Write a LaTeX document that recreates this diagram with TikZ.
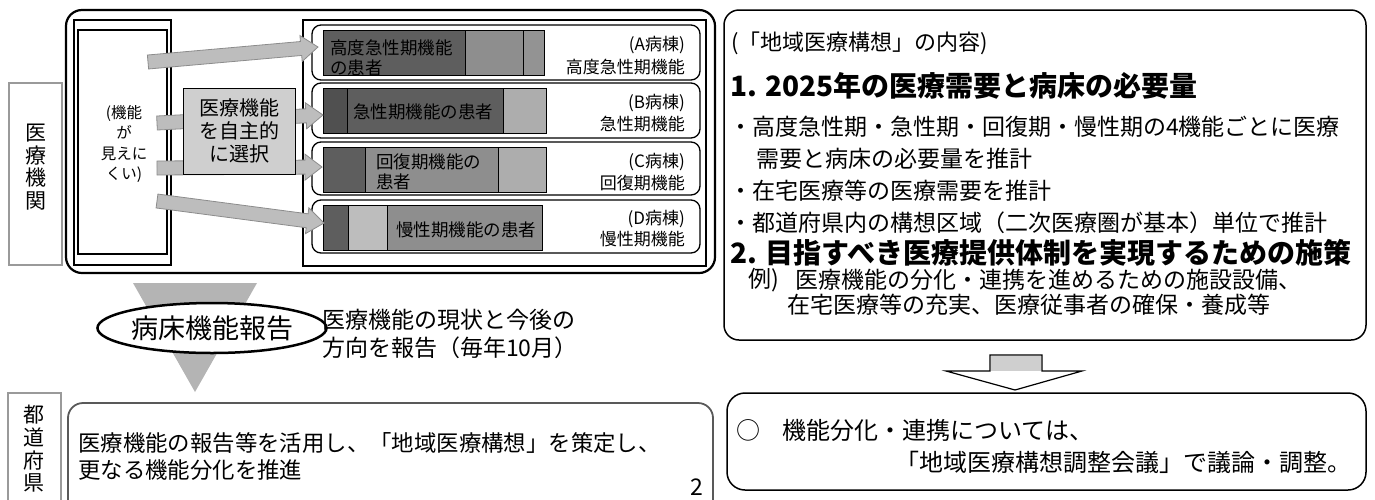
\documentclass[tikz,border=0pt]{standalone}
\usepackage{fontspec}
\setmainfont{Noto Sans CJK JP}
\usetikzlibrary{calc,shapes.geometric}
\definecolor{bardark}{HTML}{5E5E5E}
\definecolor{barmid}{HTML}{8E8E8E}
\definecolor{barlight}{HTML}{ADADAD}
\definecolor{arrfill}{HTML}{BDBDBD}
\definecolor{arredge}{HTML}{8C8C8C}
\definecolor{boxfill}{HTML}{CFCFCF}
\definecolor{trifill}{HTML}{B4B4B4}
\definecolor{sideedge}{HTML}{9A9A9A}
\newcommand\FS[2]{\fontsize{#1}{#2}\selectfont}
\newcommand\FatArrow[2]{%
  \coordinate (#1h) at ($(#2)!17pt!(#1)$);
  \filldraw[fatarrow] ($(#1)!7pt!90:(#2)$) -- ($(#1h)!7pt!90:(#2)$) -- ($(#1h)!13pt!90:(#2)$) -- (#2)
    -- ($(#1h)!13pt!-90:(#2)$) -- ($(#1h)!7pt!-90:(#2)$) -- ($(#1)!7pt!-90:(#2)$) -- cycle;}
\begin{document}
\begin{tikzpicture}[x=1pt,y=-1pt,
  txt/.style={inner sep=0pt, anchor=west},
  sidebox/.style={draw=sideedge, line width=2.5pt},
  vtext/.style={inner sep=0pt, align=center, font=\FS{21}{22.7}},
  bigpanel/.style={draw=black, line width=2.2pt, rounded corners=16pt},
  rowbox/.style={draw=black, line width=1.3pt, rounded corners=9pt, fill=white},
  seg/.style={draw=black, line width=0.8pt},
  bartxt/.style={inner sep=0pt, font=\FS{17.5}{20}},
  lbl/.style={inner sep=0pt, anchor=east, font=\FS{17}{20}},
  fatarrow/.style={fill=arrfill, draw=arredge, line width=0.8pt},
  panel/.style={draw=black, line width=1.5pt, rounded corners=15pt},
  body/.style={txt, font=\FS{23}{28}},
  head/.style={txt, font=\FS{28}{32}\bfseries},
]
\useasboundingbox (0,0) rectangle (1375,499);

% side labels
\draw[sidebox] (9,83) rectangle (62,265);
\node[vtext] (iryokikan) at (36,167) {医\\療\\機\\関};
\draw[sidebox] (8,393) rectangle (61,530);
\node[vtext] (todofuken) at (34,449) {都\\道\\府\\県};

% left big panel
\draw[bigpanel] (66,10) rectangle (715,273);

% left frame
\draw[line width=2.5pt] (74,20) rectangle (171,265);
\draw[line width=1.4pt] (78,30) rectangle (167,254);
\node[inner sep=0pt, align=center, font=\FS{15.5}{20.5}] (mienai) at (124,144) {(機能\\が\\見えに\\くい)};

% right frame
\draw[line width=2.6pt] (303,20) rectangle (706,266);

% rows
\draw[rowbox] (312,25) rectangle (700,80);
\draw[rowbox] (312,83) rectangle (700,138);
\draw[rowbox] (312,142) rectangle (700,195);
\draw[rowbox] (312,200) rectangle (700,253);

% bars A
\draw[seg, fill=bardark] (323,30) rectangle (465,75);
\draw[seg, fill=barmid] (465,30) rectangle (523,75);
\draw[seg, fill=barlight!85!black] (523,30) rectangle (544,75);
% bars B
\draw[seg, fill=bardark!85!black] (323,88) rectangle (347,133);
\draw[seg, fill=bardark] (347,88) rectangle (503,133);
\draw[seg, fill=barlight] (503,88) rectangle (546,133);
% bars C
\draw[seg, fill=bardark] (323,147) rectangle (365,192);
\draw[seg, fill=barmid] (365,147) rectangle (498,192);
\draw[seg, fill=barlight] (498,147) rectangle (546,192);
% bars D
\draw[seg, fill=bardark] (323,205) rectangle (348,250);
\draw[seg, fill=barlight!80!white] (348,205) rectangle (387,250);
\draw[seg, fill=barmid] (387,205) rectangle (542,250);

% bar texts
\node[bartxt, anchor=west] (ta1) at (330,48) {高度急性期機能};
\node[bartxt, anchor=west] (ta2) at (330,68) {の患者};
\node[bartxt] (tb) at (423,112) {急性期機能の患者};
\node[bartxt, anchor=west] (tc1) at (376,162) {回復期機能の};
\node[bartxt, anchor=west] (tc2) at (376,182) {患者};
\node[bartxt] (td) at (466,230) {慢性期機能の患者};

% row labels
\node[lbl] (la1) at (685,45) {(A病棟)};
\node[lbl] (la2) at (685,67) {高度急性期機能};
\node[lbl] (lb1) at (685,103) {(B病棟)};
\node[lbl] (lb2) at (685,124) {急性期機能};
\node[lbl] (lc1) at (685,162) {(C病棟)};
\node[lbl] (lc2) at (685,183) {回復期機能};
\node[lbl] (ld1) at (685,219) {(D病棟)};
\node[lbl] (ld2) at (685,239) {慢性期機能};

% fat arrows
\coordinate (a1) at (148,62); \coordinate (b1) at (318,47);
\coordinate (a2) at (157,123); \coordinate (b2) at (323,115);
\coordinate (a3) at (157,168); \coordinate (b3) at (322,167);
\coordinate (a4) at (157,201); \coordinate (b4) at (324,223);
\FatArrow{a1}{b1}
\FatArrow{a2}{b2}
\FatArrow{a3}{b3}
\FatArrow{a4}{b4}

% selection box
\node[draw=black, line width=0.9pt, fill=boxfill, minimum width=112pt, minimum height=86pt, inner sep=0pt,
      align=center, font=\FS{20}{23}] (sentaku) at (239,131) {医療機能\\を自主的\\に選択};

% triangle and ellipse
\fill[trifill] (133,283) -- (257,283) -- (195,392) -- cycle;
\node[draw=black, line width=2.5pt, fill=white, ellipse, minimum width=190pt, minimum height=50pt, inner sep=0pt,
      font=\FS{27}{30}] (hokoku) at (212,328) {病床機能報告};
\node[txt, font=\FS{23}{28}] (genjo1) at (322,320) {医療機能の現状と今後の};
\node[txt, font=\FS{23}{28}] (genjo2) at (322,348) {方向を報告（毎年10月）};

% bottom-left box
\draw[draw=black!65, line width=1.8pt, rounded corners=15pt] (68,403) rectangle (713,540);
\node[txt, font=\FS{22.4}{26}] (kenA) at (78,443) {医療機能の報告等を活用し、「地域医療構想」を策定し、};
\node[txt, font=\FS{22.4}{26}] (kenB) at (78,470) {更なる機能分化を推進};
\node[inner sep=0pt, font=\FS{23}{26}] (page) at (697,487) {2};

% right panel
\draw[panel] (724,10) rectangle (1366,340);
\node[txt, font=\FS{22}{26}] (r0) at (731,43) {(「地域医療構想」の内容)};
\node[head] (r1) at (730,86) {1. 2025年の医療需要と病床の必要量};
\node[body] (r2) at (729,127) {・高度急性期・急性期・回復期・慢性期の4機能ごとに医療};
\node[body] (r3) at (756,159) {需要と病床の必要量を推計};
\node[body] (r4) at (729,191) {・在宅医療等の医療需要を推計};
\node[body] (r5) at (729,223) {・都道府県内の構想区域（二次医療圏が基本）単位で推計};
\node[head] (r6) at (730,253) {2. 目指すべき医療提供体制を実現するための施策};
\node[body] (r7) at (748,280) {例)};
\node[body] (r8) at (795,280) {医療機能の分化・連携を進めるための施設設備、};
\node[body] (r9) at (787,305) {在宅医療等の充実、医療従事者の確保・養成等};

% hollow arrow
\filldraw[fill=white, draw=black, line width=1.2pt] (990,355) -- (1042,355) -- (1042,371) -- (1082,371) -- (1015,390)
  -- (946,371) -- (990,371) -- cycle;
\fill[boxfill] (991,356) rectangle (1041,370.5);

% bottom-right box
\draw[panel, rounded corners=18pt] (727,393) rectangle (1366,490);
\node[txt, font=\FS{24}{30}] (maru) at (736,430) {○};
\node[txt, font=\FS{24}{30}] (bunka1) at (782,430) {機能分化・連携については、};
\node[txt, font=\FS{24}{30}] (bunka2) at (895,462) {「地域医療構想調整会議」で議論・調整。};
\end{tikzpicture}
\end{document}
